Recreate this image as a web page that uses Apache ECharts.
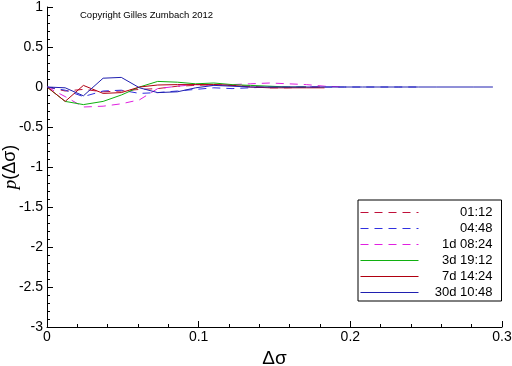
<!DOCTYPE html>
<html>
<head>
<meta charset="utf-8">
<script src="https://cdn.jsdelivr.net/npm/echarts@6/dist/echarts.min.js"></script>
<style>
  html, body { margin: 0; padding: 0; background: #fff; }
  #chart { width: 512px; height: 366px; }
</style>
</head>
<body>
<div id="chart"></div>
<script>
// x positions (Δσ) shared by all curves
const xs = [0, 0.012, 0.024, 0.037, 0.049, 0.061, 0.073, 0.086, 0.098, 0.11, 0.122, 0.134,
    0.147, 0.159, 0.171, 0.183, 0.196, 0.208, 0.22, 0.232, 0.245, 0.257, 0.269, 0.281, 0.294];

// legend labels
const names = ["01:12", "04:48", "1d 08:24", "3d 19:12", "7d 14:24", "30d 10:48"];

// p(Δσ) values for each curve
const y0112 = [0, -0.05, -0.03, -0.06, -0.05, -0.03, -0.02, 0.01, 0.02, 0.03, 0.02, 0.01, -0.01, -0.01, 0, 0];
const y0448 = [0, -0.04, -0.12, -0.05, -0.04, -0.08, -0.07, -0.05, -0.03, -0.01, -0.02, -0.01, 0, 0, 0, 0, 0, 0, 0, 0, 0];
const y1d = [0, -0.12, -0.25, -0.24, -0.21, -0.16, -0.02, 0.01, 0.03, 0.02, 0.03, 0.04, 0.05, 0.04, 0.03, 0.01, 0];
const y3d = [0, -0.18, -0.22, -0.18, -0.1, 0, 0.07, 0.06, 0.04, 0.05, 0.03, 0.02, 0.01, 0, 0];
const y7d = [0, -0.18, 0.02, -0.08, -0.07, 0, 0.025, 0.03, 0.03, 0.03, 0.02, 0, -0.01, -0.01, -0.01, -0.01];
const y30d = [0, -0.01, -0.11, 0.11, 0.12, -0.01, -0.07, -0.06, -0.01, 0.02, 0.01, 0, 0, 0, 0, 0, 0, 0, 0, 0, 0, 0, 0, 0, 0];

const yValues = [y0112, y0448, y1d, y3d, y7d, y30d];
const colors = ["#c0103a", "#3030e0", "#e020e0", "#10b010", "#b00010", "#2020b0"];
const dashed = [true, true, true, false, false, false];

const chart = echarts.init(document.getElementById("chart"));

const series = names.map((name, i) => ({
    name: name,
    type: "line",
    symbol: "none",
    data: yValues[i].map((v, k) => [xs[k], v]),
    lineStyle: { color: colors[i], width: 1, type: dashed[i] ? [8, 6] : "solid" },
    itemStyle: { color: colors[i] },
}));

const axisFont = { fontFamily: "Liberation Sans", fontSize: 14, color: "#000" };

chart.setOption({
    backgroundColor: "#fff",
    animation: false,
    grid: { left: 47, right: 10, top: 7, bottom: 39, outerBoundsMode: "none", containLabel: false },
    xAxis: {
        type: "value",
        min: 0,
        max: 0.3,
        interval: 0.1,
        name: "Δσ",
        nameLocation: "middle",
        nameGap: 22,
        nameMoveOverlap: false,
        nameTextStyle: { fontFamily: "Liberation Sans", fontSize: 19, color: "#000" },
        axisLine: { onZero: false, lineStyle: { color: "#000", width: 1 } },
        axisTick: { inside: true, length: 6, lineStyle: { color: "#000" } },
        minorTick: { show: true, splitNumber: 5, length: 3, lineStyle: { color: "#000" } },
        axisLabel: Object.assign({ margin: 3 }, axisFont),
        splitLine: { show: false },
    },
    yAxis: {
        type: "value",
        min: -3,
        max: 1,
        interval: 0.5,
        name: "{i|p}(Δσ)",
        nameLocation: "middle",
        nameGap: 27,
        nameMoveOverlap: false,
        nameTextStyle: {
            fontFamily: "Liberation Sans", fontSize: 18, color: "#000",
            rich: { i: { fontFamily: "Liberation Serif", fontStyle: "italic", fontSize: 19 } }
        },
        axisLine: { show: true, onZero: false, lineStyle: { color: "#000", width: 1 } },
        axisTick: { inside: true, length: 6, lineStyle: { color: "#000" } },
        minorTick: { show: true, splitNumber: 5, length: 3, lineStyle: { color: "#000" } },
        axisLabel: Object.assign({ margin: 4 }, axisFont),
        splitLine: { show: false },
    },
    legend: {
        orient: "vertical",
        left: 358,
        top: 200,
        padding: [6, 9, 2, 2],
        itemGap: 3,
        itemWidth: 58,
        itemHeight: 13,
        borderColor: "#000",
        borderWidth: 1,
        borderRadius: 0,
        itemStyle: { opacity: 0 },
        lineStyle: { width: 1, color: "inherit", type: "inherit", dashOffset: "inherit", opacity: "inherit" },
        data: names,
        formatter: (n) => "{a|" + n + "}",
        textStyle: {
            fontFamily: "Liberation Sans", fontSize: 13, color: "#000",
            rich: { a: { width: 69, align: "right", fontFamily: "Liberation Sans", fontSize: 13 } }
        },
    },
    graphic: [
        {
            type: "text",
            left: 80,
            top: 10,
            style: { text: "Copyright Gilles Zumbach 2012", fontFamily: "Liberation Sans", fontSize: 9.5, fill: "#000" },
        },
    ],
    series: series,
});
</script>
</body>
</html>
